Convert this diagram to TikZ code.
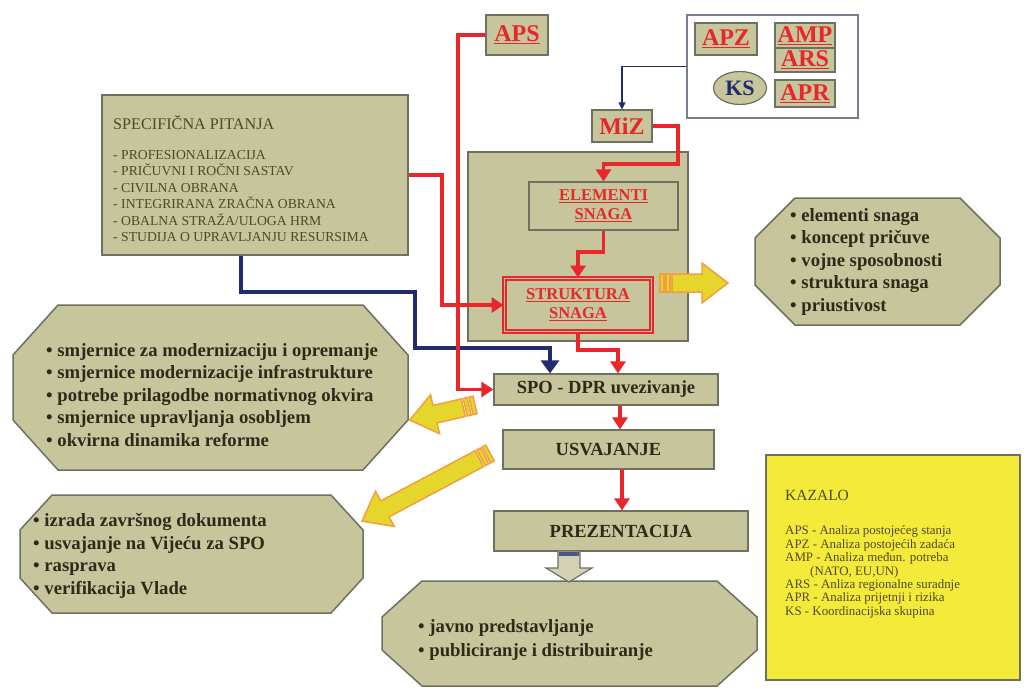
\documentclass[tikz,border=0pt]{standalone}
\usepackage{fontspec}
\setmainfont{Liberation Serif}
\usetikzlibrary{arrows.meta,calc,shapes.geometric}
\definecolor{olive}{HTML}{C6C59B}
\definecolor{boxgray}{HTML}{6E7060}
\definecolor{lred}{HTML}{E8262C}
\definecolor{navy}{HTML}{1F2C6E}
\definecolor{kazyellow}{HTML}{F4EA3A}
\definecolor{yfill}{HTML}{E4D62A}
\definecolor{ydraw}{HTML}{F0A040}
\definecolor{spectext}{HTML}{4F4A25}
\definecolor{bultext}{HTML}{2E2A1A}
\definecolor{grpline}{HTML}{7A7C90}
\definecolor{hollowfill}{HTML}{D2D1B4}
\newcommand\octa[6]{% x1,y1,x2,y2,cx,cy
  \draw[octstyle] ({#1+#5},#2) -- ({#3-#5},#2) -- (#3,{#2+#6}) -- (#3,{#4-#6}) -- ({#3-#5},#4) -- ({#1+#5},#4) -- (#1,{#4-#6}) -- (#1,{#2+#6}) -- cycle;}
\newcommand\yarr[4]{% x,y,angle,length
  \begin{scope}[shift={(#1,#2)},rotate=#3]
    \draw[yarrow] (0,-9) rectangle (4,9);
    \draw[yarrow] (6,-9) rectangle (10,9);
    \draw[yarrow] (12,-9) -- ({#4-26},-9) -- ({#4-26},-20) -- (#4,0) -- ({#4-26},20) -- ({#4-26},9) -- (12,9) -- cycle;
  \end{scope}}
\begin{document}
\begin{tikzpicture}[x=1pt,y=-1pt,
  box/.style={draw=boxgray,fill=olive,line width=1.2pt,inner sep=0pt},
  octstyle/.style={draw=boxgray,fill=olive,line width=1.5pt,line join=miter},
  redlbl/.style={text=lred,font=\bfseries\fontsize{24}{26}\selectfont},
  redmid/.style={text=lred,font=\bfseries\fontsize{16.5}{19}\selectfont,align=center},
  darklbl/.style={text=bultext,font=\bfseries\fontsize{18.5}{22}\selectfont},
  bul/.style={align=left,inner sep=0pt,text=bultext,font=\bfseries\fontsize{18.7}{22.5}\selectfont},
  redarr/.style={draw=lred,line width=3.1pt,-{Triangle[length=12pt,width=15pt]}},
  bluethin/.style={draw=navy,line width=1.1pt,-{Triangle[length=7pt,width=7pt]}},
  bluethick/.style={draw=navy,line width=4pt,-{Triangle[length=13pt,width=18pt]}},
  yarrow/.style={draw=ydraw,fill=yfill,line width=1.5pt,line join=miter},
  hollow/.style={draw=boxgray,fill=hollowfill,line width=1.2pt}]
\useasboundingbox (0,0) rectangle (1029,688);

% octagons
\octa{13}{305}{408}{470}{45}{50}
\octa{20}{495}{363}{613}{32}{35}
\octa{755}{198}{1000}{325}{40}{40}
\octa{382}{581}{757}{686}{40}{36}

% top group
\node[draw=grpline,line width=1.2pt,fill=white,minimum width=171,minimum height=103,inner sep=0pt] (grp) at (772.5,66.5) {};
\node[box,minimum width=62,minimum height=32,redlbl] (apz) at (726,39) {\underline{APZ}};
\node[box,minimum width=60,minimum height=25,redlbl] (amp) at (805,35.5) {\underline{AMP}};
\node[box,minimum width=60,minimum height=24,redlbl] (ars) at (805,60) {\underline{ARS}};
\node[box,minimum width=60,minimum height=27,redlbl] (apr) at (805,93.5) {\underline{APR}};
\node[ellipse,draw=boxgray,fill=olive,line width=1.2pt,minimum width=53,minimum height=33,inner sep=0pt,text=navy,font=\bfseries\fontsize{22}{24}\selectfont] (ks) at (740,88) {KS};

\node[box,minimum width=62,minimum height=40,redlbl] (aps) at (517,35) {\underline{APS}};
\node[box,minimum width=60,minimum height=32,redlbl] (miz) at (622,126) {MiZ};

% container
\node[box,minimum width=220,minimum height=189] (big) at (578,246.5) {};
\node[box,minimum width=149,minimum height=48,redmid] (elem) at (603.5,206) {\underline{ELEMENTI}\\\underline{SNAGA}};
\node[draw=lred,double=olive,double distance=1.6pt,line width=1.8pt,fill=olive,minimum width=147,minimum height=53,inner sep=0pt,redmid] (strukt) at (578,305) {\underline{STRUKTURA}\\\underline{SNAGA}};

% specific questions
\node[box,minimum width=306,minimum height=160] (spec) at (255,175) {};
\node[anchor=west,inner sep=0pt,text=spectext,font=\fontsize{16.2}{18}\selectfont] (spect) at (113,123) {SPECIFIČNA PITANJA};
\node[anchor=west,inner sep=0pt,align=left,text=spectext,font=\fontsize{13.7}{16.4}\selectfont] (speci) at (113,196) {- PROFESIONALIZACIJA\\- PRIČUVNI I ROČNI SASTAV\\- CIVILNA OBRANA\\- INTEGRIRANA ZRAČNA OBRANA\\- OBALNA STRAŽA/ULOGA HRM\\- STUDIJA O UPRAVLJANJU RESURSIMA};

% process column
\node[box,minimum width=224,minimum height=31,darklbl] (spo) at (606,389.5) {SPO - DPR uvezivanje};
\node[box,minimum width=211,minimum height=39,darklbl] (usv) at (608.5,449.5) {USVAJANJE};
\node[box,minimum width=254,minimum height=40,darklbl] (prez) at (621,531) {PREZENTACIJA};

% octagon texts
\node[bul,anchor=west] (ol1) at (46,395) {• smjernice za modernizaciju i opremanje\\• smjernice modernizacije infrastrukture\\• potrebe prilagodbe normativnog okvira\\• smjernice upravljanja osobljem\\• okvirna dinamika reforme};
\node[bul,anchor=west] (ol2) at (33,556) {• izrada završnog dokumenta\\• usvajanje na Vijeću za SPO\\• rasprava\\• verifikacija Vlade};
\node[bul,anchor=west] (or) at (790,262) {• elementi snaga\\• koncept pričuve\\• vojne sposobnosti\\• struktura snaga\\• priustivost};
\node[bul,anchor=west,font=\bfseries\fontsize{18.7}{24}\selectfont] (ob) at (418,640) {• javno predstavljanje\\• publiciranje i distribuiranje};

% legend
\node[draw=boxgray,fill=kazyellow,line width=1.2pt,minimum width=254,minimum height=225,inner sep=0pt] (kaz) at (893,567.5) {};
\node[anchor=west,inner sep=0pt,text=spectext,font=\fontsize{15.5}{17}\selectfont] (kazt) at (785,495) {KAZALO};
\node[anchor=west,inner sep=0pt,align=left,text=spectext,font=\fontsize{12.9}{13.4}\selectfont] (kazi) at (785,572) {APS - Analiza postojećeg stanja\\APZ - Analiza postojećih zadaća\\AMP - Analiza međun. potreba\\\hspace*{25pt}(NATO, EU,UN)\\ARS - Anliza regionalne suradnje\\APR - Analiza prijetnji i rizika\\KS - Koordinacijska skupina};

% coordinates
\coordinate (c1) at (678,164);
\coordinate (c2) at (578,252);
\coordinate (c3) at (618,350);
\coordinate (c4) at (458,200);
\coordinate (c5) at (442,240);
\coordinate (c6) at (620,420);
\coordinate (b1) at (241,292);
\coordinate (b2) at (415,348);
\coordinate (b3) at (550,348);

% connectors
\draw[bluethin] (grp.west) -| (miz.north);
\draw[redarr] (miz.east) -| (c1) -| (elem.north);
\draw[redarr] (elem.south) |- (c2) -- (strukt.north);
\draw[redarr] (strukt.south) |- (c3) -- (c3 |- spo.north);
\draw[bluethick] (spec.south -| b1) -- (b1) -| (b2) -- (b3) -- (b3 |- spo.north);
\draw[redarr] (aps.west) -| (c4) |- (spo.west);
\draw[redarr] (spec.east) -| (c5) |- (strukt.west);
\draw[redarr] (c6 |- spo.south) -- (c6 |- usv.north);
\draw[redarr] ([xshift=13.5pt]usv.south) -- ([xshift=1pt]prez.north);

% hollow arrow
\draw[hollow] (558,551) -- (580,551) -- (580,568) -- (592,568) -- (569,582) -- (546,568) -- (558,568) -- cycle;
\fill[navy!80] (559,552) rectangle (579,556);

% yellow block arrows
\yarr{660}{283}{0}{68}
\yarr{475}{405}{193}{67}
\yarr{490}{453}{208}{145}
\end{tikzpicture}
\end{document}
